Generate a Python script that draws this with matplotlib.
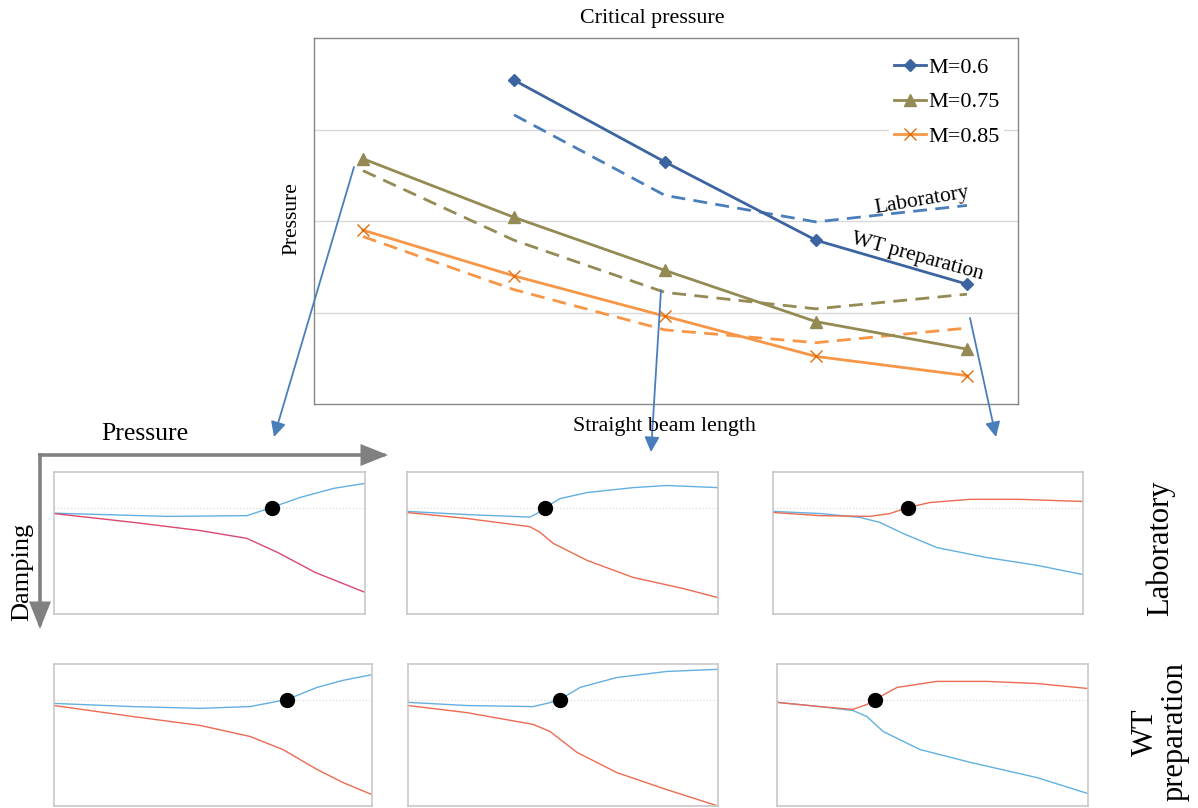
import matplotlib
matplotlib.use("Agg")
import matplotlib.pyplot as plt
from matplotlib.patches import FancyArrowPatch

plt.rcParams['font.family'] = ['Liberation Serif', 'DejaVu Serif']

W, H = 1198, 808

# ---------------- main chart data ----------------
beam_pos_06 = [2, 3, 4, 5]
beam_pos = [1, 2, 3, 4, 5]
wt_06 = [3.54, 2.645, 1.79, 1.31]
lab_06 = [3.16, 2.28, 1.99, 2.17]
wt_075 = [2.68, 2.04, 1.46, 0.90, 0.60]
lab_075 = [2.55, 1.79, 1.22, 1.04, 1.20]
wt_085 = [1.90, 1.40, 0.96, 0.52, 0.31]
lab_085 = [1.83, 1.25, 0.81, 0.67, 0.83]
legend_labels = ["M=0.6", "M=0.75", "M=0.85"]

# ---------------- small panel data (x fraction, damping) ----------------
# row 1: Laboratory, row 2: WT preparation; columns: beam length 1, 3, 5
p11_blue_x = [0, 0.363, 0.62, 0.70, 0.79, 0.90, 1.0]
p11_blue_y = [-0.16, -0.25, -0.23, 0.0, 0.28, 0.54, 0.68]
p11_red_x = [0, 0.256, 0.47, 0.62, 0.72, 0.84, 1.0]
p11_red_y = [-0.17, -0.42, -0.65, -0.87, -1.27, -1.83, -2.39]
p11_dot = 0.70

p12_blue_x = [0, 0.193, 0.395, 0.418, 0.444, 0.492, 0.579, 0.727, 0.836, 1.0]
p12_blue_y = [-0.11, -0.20, -0.27, -0.17, 0.0, 0.25, 0.42, 0.56, 0.62, 0.56]
p12_red_x = [0, 0.193, 0.395, 0.428, 0.47, 0.579, 0.727, 0.887, 1.0]
p12_red_y = [-0.14, -0.31, -0.54, -0.70, -1.01, -1.49, -1.97, -2.28, -2.54]
p12_dot = 0.444

p13_red_x = [0, 0.152, 0.313, 0.377, 0.435, 0.506, 0.635, 0.797, 1.0]
p13_red_y = [-0.14, -0.23, -0.25, -0.17, 0.0, 0.14, 0.23, 0.23, 0.17]
p13_blue_x = [0, 0.152, 0.281, 0.345, 0.419, 0.529, 0.690, 0.852, 1.0]
p13_blue_y = [-0.11, -0.17, -0.28, -0.42, -0.73, -1.13, -1.41, -1.63, -1.89]
p13_dot = 0.435

p21_blue_x = [0, 0.248, 0.459, 0.616, 0.733, 0.827, 0.909, 1.0]
p21_blue_y = [-0.11, -0.20, -0.25, -0.20, 0.0, 0.34, 0.54, 0.70]
p21_red_x = [0, 0.248, 0.459, 0.616, 0.72, 0.827, 0.909, 1.0]
p21_red_y = [-0.17, -0.48, -0.73, -1.04, -1.41, -1.97, -2.34, -2.68]
p21_dot = 0.733

p22_blue_x = [0, 0.19, 0.403, 0.448, 0.49, 0.555, 0.674, 0.835, 1.0]
p22_blue_y = [-0.08, -0.17, -0.20, -0.11, 0.0, 0.34, 0.62, 0.79, 0.85]
p22_red_x = [0, 0.19, 0.403, 0.458, 0.545, 0.674, 0.835, 1.0]
p22_red_y = [-0.17, -0.37, -0.70, -0.90, -1.49, -2.06, -2.54, -3.0]
p22_dot = 0.49

p23_red_x = [0, 0.138, 0.244, 0.289, 0.315, 0.386, 0.514, 0.675, 0.836, 1.0]
p23_red_y = [-0.08, -0.20, -0.28, -0.14, 0.0, 0.34, 0.51, 0.51, 0.45, 0.31]
p23_blue_x = [0, 0.138, 0.244, 0.289, 0.341, 0.46, 0.621, 0.836, 1.0]
p23_blue_y = [-0.08, -0.20, -0.31, -0.48, -0.90, -1.41, -1.77, -2.20, -2.65]
p23_dot = 0.315

c_blue = '#3B64A0'
c_blue_d = '#4A7EBB'
c_olive = '#948A54'
c_orange = '#F79646'
c_orange_m = '#E46C0A'
c_arrow = '#4A7EBB'
c_pblue = '#62B0DF'
c_pred = '#EC6A52'
c_pred1 = '#D9486E'


def fr(px, py, w=0, h=0):
    return [px / W, 1 - (py + h) / H, w / W, h / H]


fig = plt.figure(figsize=(W / 100, H / 100), dpi=100)

# ---------------- main chart ----------------
ax = fig.add_axes(fr(314, 38, 704, 366))
ax.set_xlim(0.6755, 5.338)
ax.set_ylim(0, 4)
ax.set_yticks([1, 2, 3])
ax.set_xticks([])
ax.tick_params(length=0, labelleft=False)
ax.grid(axis='y', color='#D9D9D9', lw=1.0)
ax.set_axisbelow(True)
for s in ax.spines.values():
    s.set_color('#868686')
    s.set_linewidth(1.0)

lw = 2.0
dash = (0, (5, 3))
h1, = ax.plot(beam_pos_06, wt_06, color=c_blue, lw=lw, marker='D', ms=6.5,
              mfc=c_blue, mec=c_blue, zorder=4)
ax.plot(beam_pos_06, lab_06, color=c_blue_d, lw=lw, ls=dash, zorder=3)
h2, = ax.plot(beam_pos, wt_075, color=c_olive, lw=lw, marker='^', ms=8.5,
              mfc=c_olive, mec=c_olive, zorder=4)
ax.plot(beam_pos, lab_075, color=c_olive, lw=lw, ls=dash, zorder=3)
h3, = ax.plot(beam_pos, wt_085, color=c_orange, lw=lw, marker='x', ms=8.5,
              mew=1.0, mec=c_orange_m, zorder=4)
ax.plot(beam_pos, lab_085, color=c_orange, lw=lw, ls=dash, zorder=3)

leg = ax.legend([h1, h2, h3], legend_labels, loc='upper right',
                bbox_to_anchor=(1004 / W, 1 - 53 / H), bbox_transform=fig.transFigure,
                fontsize=16, frameon=True, facecolor='white', edgecolor='none',
                framealpha=1, handlelength=1.45, handletextpad=0.1,
                labelspacing=0.62, borderpad=0.2, borderaxespad=0)

fig.text(652 / W, 1 - 18 / H, "Critical pressure", ha='center', va='center', fontsize=15.8)
fig.text(664 / W, 1 - 426 / H, "Straight beam length", ha='center', va='center', fontsize=15.8)
fig.text(292 / W, 1 - 219 / H, "Pressure", ha='center', va='center', fontsize=15.5,
         rotation=90)
fig.text(922 / W, 1 - 201 / H, "Laboratory", ha='center', va='center', fontsize=15.5,
         rotation=9.7)
fig.text(917 / W, 1 - 257 / H, "WT preparation", ha='center', va='center', fontsize=15.5,
         rotation=-15.4)

# ---------------- connecting arrows ----------------
arrows = [((354, 167), (274, 437)), ((661, 290), (651, 452)), ((970, 318), (996, 437))]
for (x0, y0), (x1, y1) in arrows:
    a = FancyArrowPatch((x0, H - y0), (x1, H - y1), transform=None,
                        arrowstyle='-|>,head_length=9,head_width=4.5',
                        mutation_scale=1, color=c_arrow, lw=1.3, shrinkA=0, shrinkB=0)
    fig.add_artist(a)

# big gray axes arrows
for (x0, y0), (x1, y1) in [((40, 455), (388, 455)), ((40, 455), (40, 629))]:
    a = FancyArrowPatch((x0, H - y0), (x1, H - y1), transform=None,
                        arrowstyle='-|>,head_length=15,head_width=6',
                        mutation_scale=1, color='#808080', lw=2.6, shrinkA=0, shrinkB=0,
                        joinstyle='miter', capstyle='projecting')
    fig.add_artist(a)

fig.text(145 / W, 1 - 434 / H, "Pressure", ha='center', va='center', fontsize=18.5)
fig.text(22 / W, 1 - 572 / H, "Damping", ha='center', va='center', fontsize=19,
         rotation=90)

fig.text(1160 / W, 1 - 548 / H, "Laboratory", ha='center', va='center', fontsize=22,
         rotation=90)
fig.text(1160 / W, 1 - 732 / H, "WT\npreparation", ha='center', va='center',
         fontsize=22, rotation=90, multialignment='center', linespacing=1.05)

# ---------------- small panels ----------------
panels = [
    (fr(54, 472, 311, 142), p11_blue_x, p11_blue_y, p11_red_x, p11_red_y, p11_dot, c_pred1),
    (fr(407, 472, 311, 142), p12_blue_x, p12_blue_y, p12_red_x, p12_red_y, p12_dot, c_pred),
    (fr(773, 472, 310, 142), p13_blue_x, p13_blue_y, p13_red_x, p13_red_y, p13_dot, c_pred),
    (fr(54, 664, 318, 142), p21_blue_x, p21_blue_y, p21_red_x, p21_red_y, p21_dot, c_pred),
    (fr(408, 664, 310, 142), p22_blue_x, p22_blue_y, p22_red_x, p22_red_y, p22_dot, c_pred),
    (fr(777, 664, 311, 142), p23_blue_x, p23_blue_y, p23_red_x, p23_red_y, p23_dot, c_pred),
]
for rect, bx, by, rx, ry, dot, rc in panels:
    pa = fig.add_axes(rect)
    pa.set_xlim(0, 1)
    pa.set_ylim(-3, 1)
    pa.set_xticks([])
    pa.set_yticks([])
    for s in pa.spines.values():
        s.set_color('#C8C8C8')
        s.set_linewidth(1.2)
    pa.axhline(0, color='#DDDDDD', lw=0.9, ls=':')
    pa.plot(bx, by, color=c_pblue, lw=1.0)
    pa.plot(rx, ry, color=rc, lw=1.0)
    pa.plot([dot], [0], 'o', color='black', ms=10)

fig.savefig("out.png", dpi=100)
